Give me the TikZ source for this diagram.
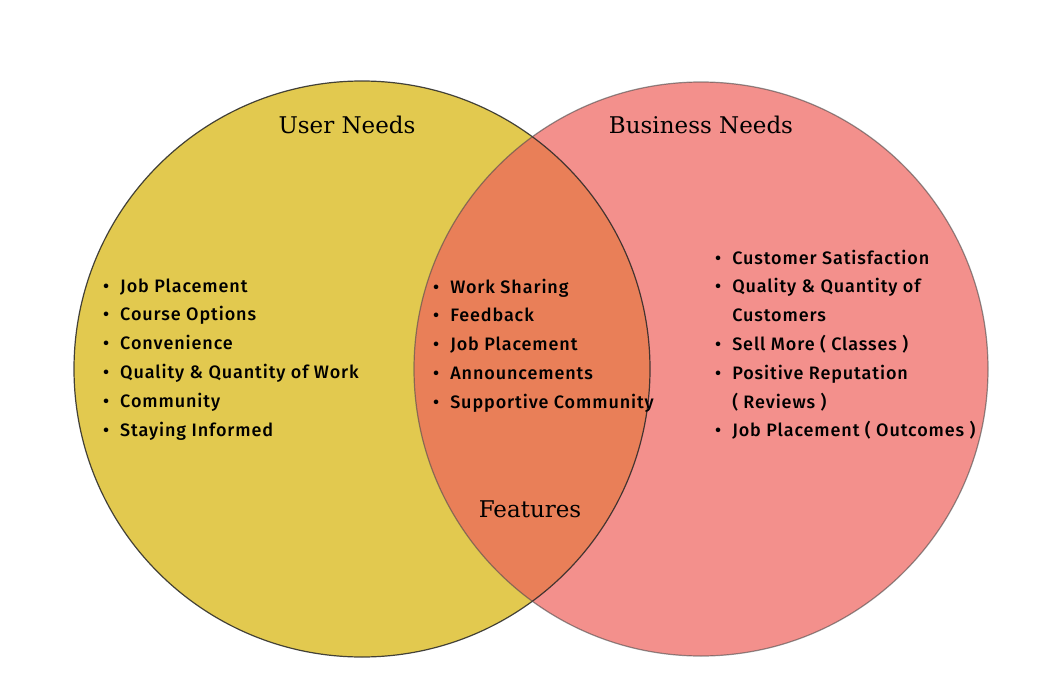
\documentclass[tikz,border=0pt]{standalone}
\usepackage{fontspec}
\usepackage{tikz}
\usetikzlibrary{positioning}
\newfontfamily\listfont{Fira Sans Medium}[LetterSpace=5]
\newfontfamily\titlefont{DejaVu Serif}
\definecolor{userfill}{HTML}{E2C94F}
\definecolor{bizfill}{HTML}{F3908C}
\definecolor{featfill}{HTML}{E97F58}
\newcommand{\itm}[1]{\textbullet & #1\\}
\newcommand{\cont}[1]{ & #1\\}
\begin{document}
\begin{tikzpicture}[x=1pt,y=-1pt,
    title/.style={font=\titlefont\fontsize{23}{28}\selectfont},
    needlist/.style={anchor=base west,inner sep=0pt,font=\listfont\fontsize{18}{28.8}\selectfont}]
    \useasboundingbox[fill=white] (0,0) rectangle (1046,682);
    % circles
    \fill[userfill] (362,369) circle[radius=288];
    \fill[bizfill] (701,369) circle[radius=287];
    \begin{scope}
        \clip (362,369) circle[radius=288];
        \fill[featfill] (701,369) circle[radius=287];
    \end{scope}
    \draw[black!85,line width=1.2pt,opacity=0.85] (362,369) circle[radius=288];
    \draw[black!70,line width=1.2pt,opacity=0.6] (701,369) circle[radius=287];
    % titles
    \node[title] (user) at (347,125) {User Needs};
    \node[title] (biz) at (701,125) {Business Needs};
    \node[title] (feat) at (530,509) {Features};
    % lists
    \node[needlist] (userlist) at (103,292) {\begin{tabular}[t]{@{}l@{\hspace{11pt}}l@{}}
        \itm{Job Placement}
        \itm{Course Options}
        \itm{Convenience}
        \itm{Quality \& Quantity of Work}
        \itm{Community}
        \itm{Staying Informed}
    \end{tabular}};
    \node[needlist] (featlist) at (433,293) {\begin{tabular}[t]{@{}l@{\hspace{11pt}}l@{}}
        \itm{Work Sharing}
        \itm{Feedback}
        \itm{Job Placement}
        \itm{Announcements}
        \itm{Supportive Community}
    \end{tabular}};
    \node[needlist] (bizlist) at (715,264) {\begin{tabular}[t]{@{}l@{\hspace{11pt}}l@{}}
        \itm{Customer Satisfaction}
        \itm{Quality \& Quantity of}
        \cont{Customers}
        \itm{Sell More ( Classes )}
        \itm{Positive Reputation}
        \cont{( Reviews )}
        \itm{Job Placement ( Outcomes )}
    \end{tabular}};
\end{tikzpicture}
\end{document}
